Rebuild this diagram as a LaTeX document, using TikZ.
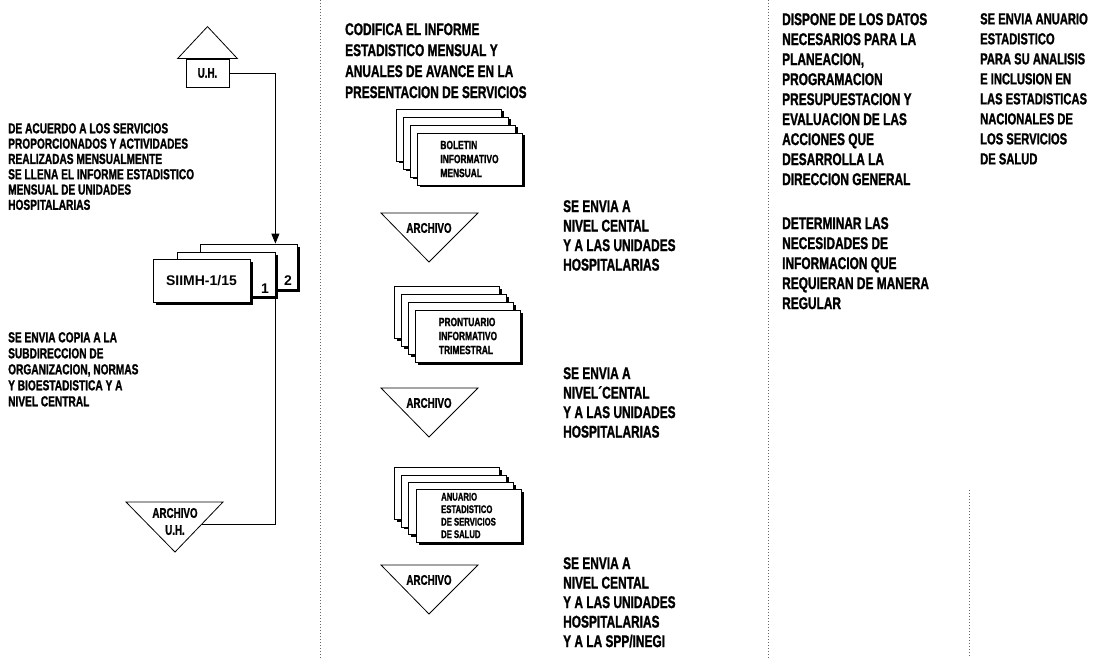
\documentclass[tikz,border=0pt]{standalone}
\usepackage{fontspec}
\setmainfont{Liberation Sans}
\newfontfamily\condfont[FakeStretch=0.70, BoldFeatures={FakeBold=1.2}]{Liberation Sans}
\usetikzlibrary{positioning, arrows.meta, shadows}

\begin{document}
\begin{tikzpicture}[x=1pt, y=-1pt,
    txt/.style={anchor=north west, inner sep=0pt, align=left, font=\condfont\bfseries\fontsize{17}{20}\selectfont},
    smalltxt/.style={txt, font=\condfont\bfseries\fontsize{14.5}{15.3}\selectfont},
    sheet/.style={draw, fill=white, line width=0.8pt, minimum width=105pt, minimum height=52pt, inner sep=0pt,
        align=left, font=\condfont\bfseries\fontsize{12}{14}\selectfont,
        drop shadow={shadow xshift=2.5pt, shadow yshift=-2.5pt, fill=black, opacity=1}},
    form/.style={sheet, font=\bfseries\fontsize{14}{16}\selectfont},
    arch/.style={inner sep=0pt, align=center, font=\condfont\bfseries\fontsize{14}{17}\selectfont},
    num/.style={inner sep=0pt, font=\bfseries\fontsize{14}{16}\selectfont},
    sep/.style={dotted, line width=1pt, black!60}
]
\useasboundingbox (0,0) rectangle (1093,658);

% separadores
\draw[sep] (320,0) -- (320,658);
\draw[sep] (768,0) -- (768,658);
\draw[sep] (969,490) -- (969,658);

% unidad hospitalaria
\node[draw, line width=0.8pt, minimum width=43pt, minimum height=28pt, inner sep=0pt,
      font=\condfont\bfseries\fontsize{14}{16}\selectfont] (uh) at (207.5,73) {U.H.};
\draw[line width=0.8pt] ([xshift=-8pt]uh.north west) -- ([yshift=32pt]uh.north) -- ([xshift=8pt]uh.north east) -- cycle;

\node[smalltxt] (acuerdo) at (8,123) {DE ACUERDO A LOS SERVICIOS\\PROPORCIONADOS Y ACTIVIDADES\\REALIZADAS MENSUALMENTE\\SE LLENA EL INFORME ESTADISTICO\\MENSUAL DE UNIDADES\\HOSPITALARIAS};

% formato SIIMH
\node[form, minimum width=97pt, minimum height=45pt] (s2) at (248.5,266.5) {};
\node[form, minimum width=98pt, minimum height=44pt] (s1) at (226,274) {};
\node[form, minimum width=97pt, minimum height=43pt] (siimh) at (201.5,280.5) {SIIMH-1/15};
\node[num] (n1) at (265,289) {1};
\node[num] (n2) at (288,281) {2};

\draw[line width=0.8pt, -{Triangle[length=10pt,width=8pt]}] (uh.east) -| (s2.north -| s1.south east);

\node[smalltxt, font=\condfont\bfseries\fontsize{14.5}{16}\selectfont] (copia) at (8,332) {SE ENVIA COPIA A LA\\SUBDIRECCION DE\\ORGANIZACION, NORMAS\\Y BIOESTADISTICA Y A\\NIVEL CENTRAL};

% archivo U.H.
\draw[line width=0.8pt] (126,502) -- (223,502) -- (175,552) -- cycle;
\node[arch] (auh) at (175,521.5) {ARCHIVO\\U.H.};
\coordinate (auhin) at (202,524);
\draw[line width=0.8pt] (s1.south east) |- (auhin);

% columna central
\node[txt, font=\condfont\bfseries\fontsize{17}{21}\selectfont] (codifica) at (345,23) {CODIFICA EL INFORME\\ESTADISTICO MENSUAL Y\\ANUALES DE AVANCE EN LA\\PRESENTACION DE SERVICIOS};

\foreach \nm/\cx/\cy/\lbl in {bol/469.5/159/{BOLETIN\\INFORMATIVO\\MENSUAL},
                             pro/468/336/{PRONTUARIO\\INFORMATIVO\\TRIMESTRAL}}{
    \foreach \k in {3,2,1}
        \node[sheet] (\nm\k) at (\cx-\k*7, \cy-\k*8) {};
    \node[sheet] (\nm0) at (\cx,\cy) {\lbl};
}
\foreach \k in {3,2,1}
    \node[sheet] (anu\k) at (468.5-\k*7.3, 515.5-\k*7.3) {};
\node[sheet, minimum height=53pt, font=\condfont\bfseries\fontsize{11}{12.5}\selectfont] (anu0) at (468.5,515.5)
    {ANUARIO\\ESTADISTICO\\DE SERVICIOS\\DE SALUD};

\foreach \i/\top in {1/213, 2/388, 3/565}{
    \draw[line width=0.8pt] (381,\top) -- (478,\top) -- (429,\top+49) -- cycle;
    \node[arch] (arch\i) at (429,\top+15) {ARCHIVO};
}

\node[txt, font=\condfont\bfseries\fontsize{17}{19.5}\selectfont] (envia1) at (563,200) {SE ENVIA A\\NIVEL CENTAL\\Y A LAS UNIDADES\\HOSPITALARIAS};
\node[txt, font=\condfont\bfseries\fontsize{17}{19.5}\selectfont] (envia2) at (563,367) {SE ENVIA A\\NIVEL´CENTAL\\Y A LAS UNIDADES\\HOSPITALARIAS};
\node[txt, font=\condfont\bfseries\fontsize{17}{19.5}\selectfont] (envia3) at (563,557) {SE ENVIA A\\NIVEL CENTAL\\Y A LAS UNIDADES\\HOSPITALARIAS\\Y A LA SPP/INEGI};

% columna derecha
\node[txt] (dispone) at (782,13) {DISPONE DE LOS DATOS\\NECESARIOS PARA LA\\PLANEACION,\\PROGRAMACION\\PRESUPUESTACION Y\\EVALUACION DE LAS\\ACCIONES QUE\\DESARROLLA LA\\DIRECCION GENERAL};
\node[txt] (determinar) at (782,217) {DETERMINAR LAS\\NECESIDADES DE\\INFORMACION QUE\\REQUIERAN DE MANERA\\REGULAR};
\node[txt, font=\condfont\bfseries\fontsize{16}{20}\selectfont] (anuario) at (980,13) {SE ENVIA ANUARIO\\ESTADISTICO\\PARA SU ANALISIS\\E INCLUSION EN\\LAS ESTADISTICAS\\NACIONALES DE\\LOS SERVICIOS\\DE SALUD};
\end{tikzpicture}
\end{document}
